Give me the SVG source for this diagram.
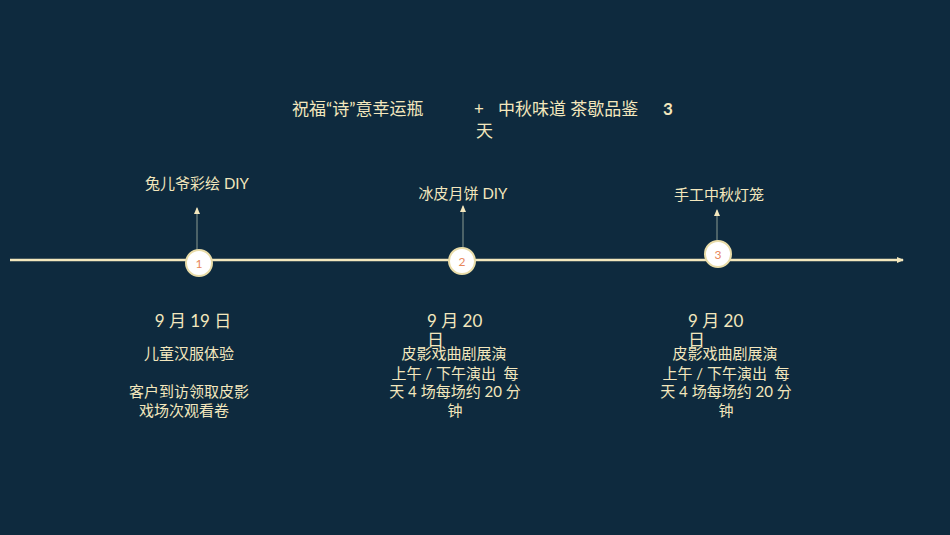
<svg xmlns="http://www.w3.org/2000/svg" width="950" height="535" viewBox="0 0 950 535">
<defs>
<style>
text{font-family:"Lato","Noto Sans CJK SC",sans-serif;fill:#f3e7bd}
.t{font-size:17px}
.s{font-size:15px;text-anchor:middle}
.c{fill:#fff;stroke:#e9dca8;stroke-width:2}
.n{fill:#e8875a;font-size:12px;text-anchor:middle}
</style>
<marker id="a" markerWidth="8" markerHeight="8" refX="6" refY="4" orient="auto" markerUnits="userSpaceOnUse"><path d="M0,1L7,4L0,7Z" fill="#f3e7bd"/></marker>
</defs>
<rect width="950" height="535" fill="#0e2a3e"/>
<g id="connectors" stroke-width="1">
<line x1="10" y1="260" x2="903" y2="260" stroke="#f3e7bd" stroke-width="2.5" marker-end="url(#a)"/>
<line x1="197" y1="250" x2="197" y2="208" stroke="#8a9a90" marker-end="url(#a)"/>
<line x1="463" y1="248" x2="463" y2="206" stroke="#8a9a90" marker-end="url(#a)"/>
<line x1="717" y1="241" x2="717" y2="210" stroke="#8a9a90" marker-end="url(#a)"/>
</g>
<g id="title">
<text class="t" x="292" y="115">祝福“诗”意幸运瓶</text>
<text class="t" x="474" y="115">+</text>
<text class="t" x="498" y="115">中秋味道 茶歇品鉴</text>
<text class="t" x="663" y="115" font-weight="bold">3</text>
<text class="t" x="476" y="137">天</text>
</g>
<g id="node1">
<circle class="c" cx="199" cy="263" r="13"/>
<text class="n" x="199" y="268">1</text>
<text class="s" x="197" y="189">兔儿爷彩绘 DIY</text>
<text class="t" x="193" y="327" text-anchor="middle">9 月 19 日</text>
<text class="s" x="189" y="359">儿童汉服体验</text>
<text class="s" x="189" y="397">客户到访领取皮影</text>
<text class="s" x="184" y="416">戏场次观看卷</text>
</g>
<g id="node2">
<circle class="c" cx="462" cy="261" r="13"/>
<text class="n" x="462" y="266">2</text>
<text class="s" x="463" y="199">冰皮月饼 DIY</text>
<text class="t" x="427" y="327">9 月 20</text>
<text class="t" x="427" y="346">日</text>
<text class="s" x="454" y="359">皮影戏曲剧展演</text>
<text class="s" x="455" y="379" xml:space="preserve">上午 / 下午演出  每</text>
<text class="s" x="455" y="397">天 4 场每场约 20 分</text>
<text class="s" x="455" y="416">钟</text>
</g>
<g id="node3">
<circle class="c" cx="718" cy="254" r="13"/>
<text class="n" x="718" y="259">3</text>
<text class="s" x="719" y="200">手工中秋灯笼</text>
<text class="t" x="688" y="327">9 月 20</text>
<text class="t" x="688" y="346">日</text>
<text class="s" x="725" y="359">皮影戏曲剧展演</text>
<text class="s" x="726" y="379" xml:space="preserve">上午 / 下午演出  每</text>
<text class="s" x="726" y="397">天 4 场每场约 20 分</text>
<text class="s" x="726" y="416">钟</text>
</g>
</svg>
